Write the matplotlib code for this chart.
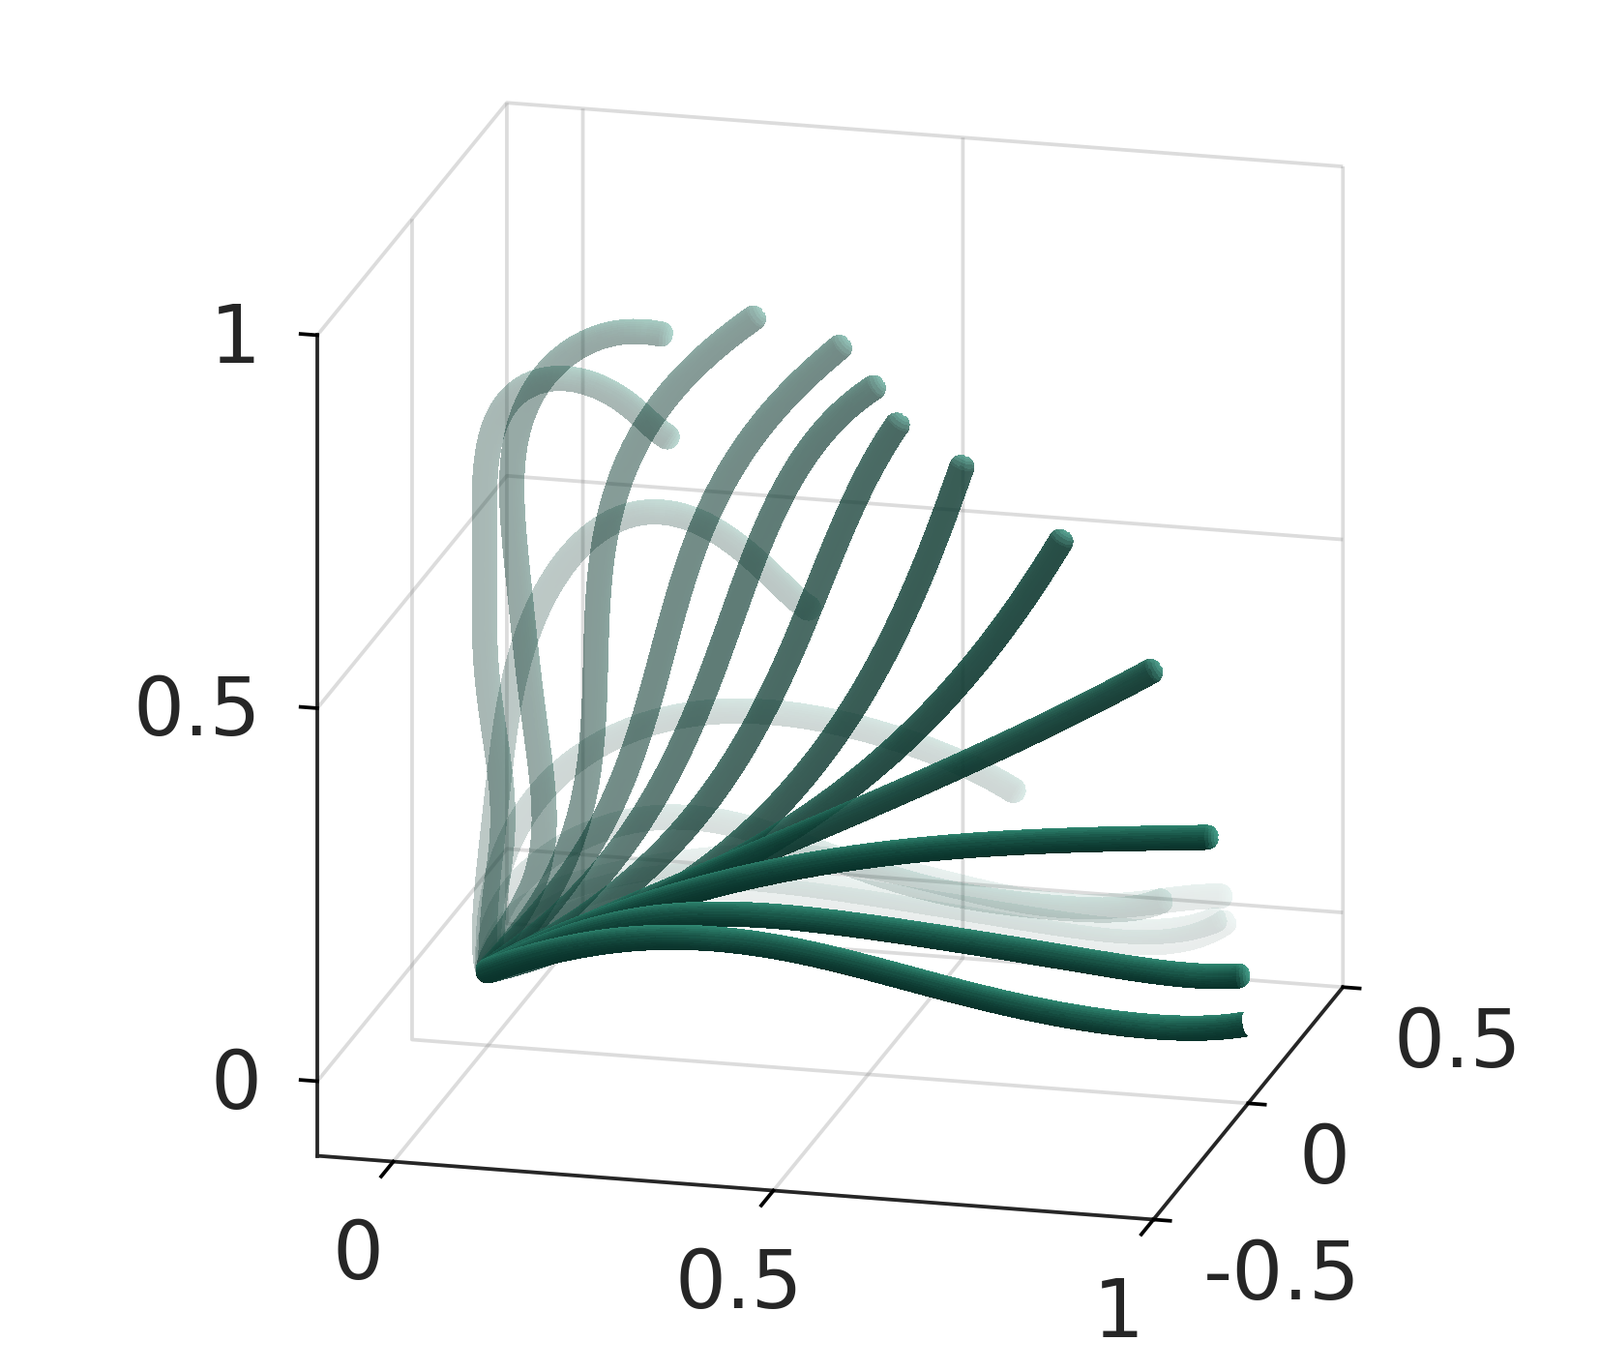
import numpy as np
import matplotlib
matplotlib.use("Agg")
import matplotlib.pyplot as plt
from matplotlib.transforms import offset_copy

# ---- data: arm centre lines (x along the first axis, z height, y plane) ----
y_plane = 0.0
origin_x, origin_z = 0.0, 0.0
x18 = [.086,.181,.303,.412,.511,.640,.769,.855,.919,.985]
z18 = [.069,.111,.136,.135,.128,.119,.107,.101,.114,.145]
x17 = [.086,.181,.303,.412,.511,.618,.726,.833,.919,.973]
z17 = [.089,.131,.150,.149,.143,.133,.125,.118,.126,.146]
x16 = [.072,.146,.219,.303,.412,.511,.597,.682,.769,.855,.981]
z16 = [.102,.135,.159,.172,.179,.182,.169,.152,.141,.158,.175]
x15 = [.025,.071,.114,.203,.275,.359,.439,.534,.643,.765,.847,.901]
z15 = [.098,.153,.183,.216,.227,.217,.192,.165,.149,.142,.148,.166]
x14 = [.004,.025,.071,.136,.203,.273,.366,.470,.559,.633,.704]
z14 = [.083,.167,.246,.304,.346,.364,.375,.368,.349,.325,.292]
x13 = [.002,.015,.029,.049,.078,.112,.163,.211,.288,.356,.430]
z13 = [.138,.281,.359,.444,.512,.566,.617,.634,.618,.576,.517]
x12 = [.004,.014,.018,.015,.008,.000,-.006,-.006,-.003,.006,.027,.065,.108,.159,.211,.245]
z12 = [.042,.125,.207,.281,.316,.397,.479,.560,.643,.715,.772,.797,.801,.786,.756,.731]
x11 = [.038,.070,.071,.070,.059,.049,.044,.033,.033,.048,.082,.125,.177,.237]
z11 = [.076,.153,.244,.295,.361,.429,.509,.594,.680,.754,.813,.848,.870,.870]
x10 = [.014,.056,.090,.114,.125,.136,.142,.148,.159,.176,.211,.284,.359]
z10 = [.022,.074,.127,.183,.243,.304,.429,.517,.604,.671,.754,.838,.907]
x9 = [.030,.074,.116,.155,.178,.203,.233,.258,.288,.326,.392,.473]
z9 = [.040,.087,.144,.206,.281,.346,.436,.546,.618,.707,.794,.877]
x8 = [.052,.104,.151,.203,.237,.273,.307,.356,.386,.447,.519]
z8 = [.047,.094,.131,.216,.290,.364,.442,.576,.670,.756,.826]
x7 = [.045,.095,.163,.219,.275,.314,.366,.400,.426,.455,.499,.548]
z7 = [.029,.063,.108,.159,.219,.296,.375,.449,.521,.597,.682,.780]
x6 = [.059,.116,.229,.301,.359,.417,.470,.519,.561,.602,.632]
z6 = [.026,.047,.113,.165,.217,.292,.368,.458,.537,.635,.731]
x5 = [.072,.167,.288,.400,.503,.559,.623,.697,.765]
z5 = [.034,.082,.146,.220,.311,.349,.432,.533,.641]
x4 = [.072,.167,.276,.398,.511,.633,.765,.887]
z4 = [.038,.086,.145,.209,.259,.325,.402,.473]
x3 = [.099,.195,.276,.360,.489,.629,.769,.874,.962]
z3 = [.052,.098,.132,.157,.188,.215,.234,.246,.253]
x2 = [.086,.167,.288,.404,.511,.643,.769,.897,1.004]
z2 = [.043,.075,.097,.103,.098,.086,.078,.066,.071]
x1 = [.072,.154,.245,.330,.426,.511,.602,.682,.769,.897,.955,1.014]
z1 = [.028,.051,.063,.066,.056,.042,.024,.011,-.001,-.007,-.003,.008]

arm_x = [x18,x17,x16,x15,x14,x13,x12,x11,x10,x9,x8,x7,x6,x5,x4,x3,x2,x1]
arm_z = [z18,z17,z16,z15,z14,z13,z12,z11,z10,z9,z8,z7,z6,z5,z4,z3,z2,z1]
arm_alpha = [.09,.10,.11,.16,.20,.28,.36,.43,.50,.58,.66,.75,.82,.89,.94,1,1,1]
arm_degree = [6,6,6,7,6,6,9,9,6,5,5,4,4,4,3,4,6,7]
x_read_scale = 0.99

x_ticks = [0, 0.5, 1]; x_labels = ["0", "0.5", "1"]
y_ticks = [-0.5, 0, 0.5]; y_labels = ["-0.5", "0", "0.5"]
z_ticks = [0, 0.5, 1]; z_labels = ["0", "0.5", "1"]

ELEV, AZIM = 17.8, -76.0
RADIUS = 0.0155
DARK = np.array([0.04, 0.20, 0.17])
LIGHT = np.array([0.20, 0.56, 0.47])
TIP = np.array([0.30, 0.66, 0.58])
INK = "#262626"
GRID = (0.55, 0.55, 0.55, 0.30)

fig = plt.figure(figsize=(16.54, 14.17), dpi=100)
ax = fig.add_axes([12/1654, 6/1417, 1, 1], projection="3d")
ax.set_proj_type("ortho")
ax.view_init(elev=ELEV, azim=AZIM)
ax.computed_zorder = False

e, a = np.radians(ELEV), np.radians(AZIM)
view = np.array([np.cos(e)*np.cos(a), np.cos(e)*np.sin(a), np.sin(e)])
right = np.array([-np.sin(a), np.cos(a), 0.0])
up = np.cross(view, right)
light = 0.3*right + 0.95*up
light /= np.linalg.norm(light)


def smooth(p, deg, n=140):
    s = np.r_[0, np.cumsum(np.linalg.norm(np.diff(p, axis=0), axis=1))]
    s /= s[-1]
    w = np.ones(len(p)); w[0] = w[-1] = 8
    u = np.linspace(0, 1, n)
    out = np.zeros((n, 3))
    for d in range(3):
        out[:, d] = np.polynomial.Polynomial.fit(s, p[:, d], deg, w=w)(u)
    seg = np.r_[0, np.cumsum(np.linalg.norm(np.diff(out, axis=0), axis=1))]
    return out[seg <= seg[-1] - 0.1*RADIUS]


def fade(alpha):
    level = np.sqrt(alpha)
    def f(img, dpi):
        out = img.copy()
        out[..., 3] *= level
        return out, 0, 0
    return f


def tube(xs, zs, alpha, deg, order, open_tip=False):
    xs = np.r_[origin_x, np.asarray(xs)*x_read_scale]
    zs = np.r_[origin_z, zs]
    p = np.column_stack([xs, np.full(len(xs), y_plane), zs])
    c = smooth(p, deg)
    t = np.gradient(c, axis=0)
    t /= np.linalg.norm(t, axis=1, keepdims=True)
    n1 = np.cross(t, view)
    n1 /= np.linalg.norm(n1, axis=1, keepdims=True)
    n2 = np.cross(n1, t)
    th = np.linspace(0, np.pi, 17)
    caps = np.radians([80, 65, 50, 35, 20, 8])
    rows_c, rows_r, rows_k = [], [], []
    for g in caps:           # round start
        rows_c.append(c[0] - RADIUS*np.sin(g)*t[0]); rows_r.append(np.cos(g)); rows_k.append((0, -np.sin(g)))
    for i in range(len(c)):
        rows_c.append(c[i]); rows_r.append(1.0); rows_k.append((i, 0.0))
    if not open_tip:
        for g in caps[::-1]: # round tip
            rows_c.append(c[-1] + RADIUS*np.sin(g)*t[-1]); rows_r.append(np.cos(g)); rows_k.append((len(c)-1, np.sin(g)))
    X = np.zeros((len(rows_c), len(th), 3))
    F = np.zeros((len(rows_c), len(th), 4))
    for r, (cc, rr, (idx, s)) in enumerate(zip(rows_c, rows_r, rows_k)):
        flat = 1.0 - abs(t[idx] @ np.array([0.0, 0.0, 1.0]))
        power = 2.6 - 1.4*flat**2
        for j, h in enumerate(th):
            rad = np.cos(h)*n1[idx] + np.sin(h)*n2[idx]
            X[r, j] = cc + RADIUS*rr*rad
            v = 0.5 + 0.5*float(rad @ light)
            col = DARK + (LIGHT-DARK)*v**power
            if s > 0:
                col = col + (TIP-col)*min(1.0, s*0.9)
            F[r, j, :3] = col
            F[r, j, 3] = 1.0
    surf = ax.plot_surface(X[..., 0], X[..., 1], X[..., 2], facecolors=F, rstride=1, cstride=1,
                           shade=False, linewidth=0, antialiased=False, zorder=order)
    if alpha < 1:
        surf.set_agg_filter(fade(alpha))


for k, (xs, zs, al, dg) in enumerate(zip(arm_x, arm_z, arm_alpha, arm_degree)):
    tube(xs, zs, al, dg, 10+k, open_tip=(k == len(arm_x)-1))

ax.set_xlim(-0.1, 1.0, view_margin=0)
ax.set_ylim(-0.5, 0.5, view_margin=0)
ax.set_zlim(-0.1, 1.0, view_margin=0)
ax.set_box_aspect((1.1, 1.0, 1.1), zoom=1.026)

ax.set_xticks(x_ticks); ax.set_yticks(y_ticks); ax.set_zticks(z_ticks)
ax.set_xticklabels(x_labels, fontsize=60, color=INK)
ax.set_yticklabels(y_labels, fontsize=60, color=INK, ha="left")
ax.set_zticklabels(z_labels, fontsize=60, color=INK, ha="right")
ax.zaxis.set_ticks_position("lower")
ax.zaxis._get_tickdir = lambda pos: 0
ax.tick_params(axis="both", pad=14)
ax.tick_params(axis="z", pad=14)
for axis in (ax.xaxis, ax.yaxis, ax.zaxis):
    axis.set_pane_color((1, 1, 1, 0))
    axis.pane.set_edgecolor(GRID)
    axis.pane.set_linewidth(2.7)
    axis.line.set_color(INK)
    axis.line.set_linewidth(2.7)
    axis._axinfo["grid"].update(color=GRID, linewidth=2.7)
    axis._axinfo["tick"].update(inward_factor=0.25, outward_factor=0.0, color=INK)
    axis._axinfo["tick"]["linewidth"] = {True: 2.7, False: 2.7}
ax.xaxis._axinfo["tick"].update(inward_factor=0.8)
ax.zaxis._axinfo["tick"].update(inward_factor=0.0, outward_factor=0.25)


def shift_labels(axis, dx, dy):
    original = axis.get_major_ticks

    def get_major_ticks(numticks=None):
        ticks = original(numticks)
        for tick in ticks:
            tick.label1.set_transform(offset_copy(ax.transData, fig=fig, x=dx, y=dy, units="dots"))
        return ticks
    axis.get_major_ticks = get_major_ticks


shift_labels(ax.xaxis, -28, -12)
shift_labels(ax.yaxis, 16, 19)
shift_labels(ax.zaxis, -14, 43)

fig.savefig("out.png", dpi=100, facecolor="white")
